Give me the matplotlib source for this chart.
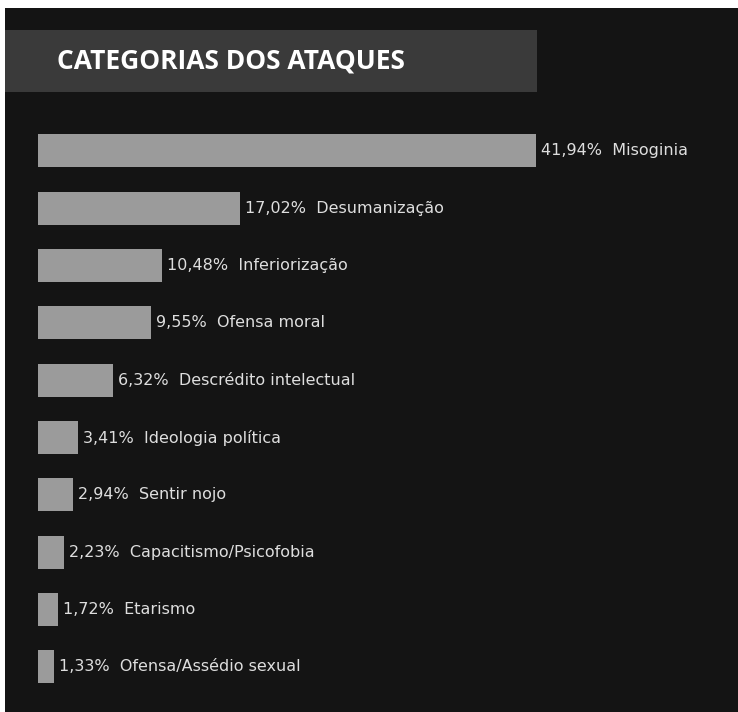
import matplotlib
matplotlib.use("Agg")
import matplotlib.pyplot as plt
from matplotlib.patches import Rectangle

categorias = ["Misoginia", "Desumanização", "Inferiorização", "Ofensa moral",
              "Descrédito intelectual", "Ideologia política", "Sentir nojo",
              "Capacitismo/Psicofobia", "Etarismo", "Ofensa/Assédio sexual"]
valores = [41.94, 17.02, 10.48, 9.55, 6.32, 3.41, 2.94, 2.23, 1.72, 1.33]
titulo = "CATEGORIAS DOS ATAQUES"

W, H = 738, 712
fig = plt.figure(figsize=(W / 100, H / 100), dpi=100)
fig.patch.set_facecolor("white")

# fundo escuro com borda branca em cima e à esquerda
fig.patches.append(Rectangle((5 / W, 0), 1, 1 - 8 / H, transform=fig.transFigure,
                             facecolor="#141414", edgecolor="none", zorder=-3))
# faixa do título
fig.patches.append(Rectangle((5 / W, 1 - 92 / H), (537 - 5) / W, 62 / H,
                             transform=fig.transFigure, facecolor="#3a3a3a",
                             edgecolor="none", zorder=-2))
fig.text(57 / W, 1 - 61 / H, titulo, color="white", fontsize=19,
         fontweight="bold", family="Open Sans", va="center", ha="left")

ax = fig.add_axes([38 / W, 1 - 700 / H, (W - 38) / W, 580 / H])
ax.set_facecolor("none")
px = 11.87  # pixels por ponto percentual
passo = 57.33
ax.set_xlim(0, (W - 38) / px)
ax.set_ylim((700 - 151) / passo, (120 - 151) / passo)

y = list(range(len(valores)))
ax.barh(y, valores, height=33 / passo, color="#9b9b9b")
for i, v in zip(y, valores):
    rot = f"{v:.2f}".replace(".", ",") + "%  " + categorias[i]
    ax.text(v + 5 / px, i, rot, color="#dedede", fontsize=11.5,
            family="DejaVu Sans", va="center", ha="left")

ax.axis("off")
fig.savefig("out.png", dpi=100, facecolor=fig.get_facecolor())
